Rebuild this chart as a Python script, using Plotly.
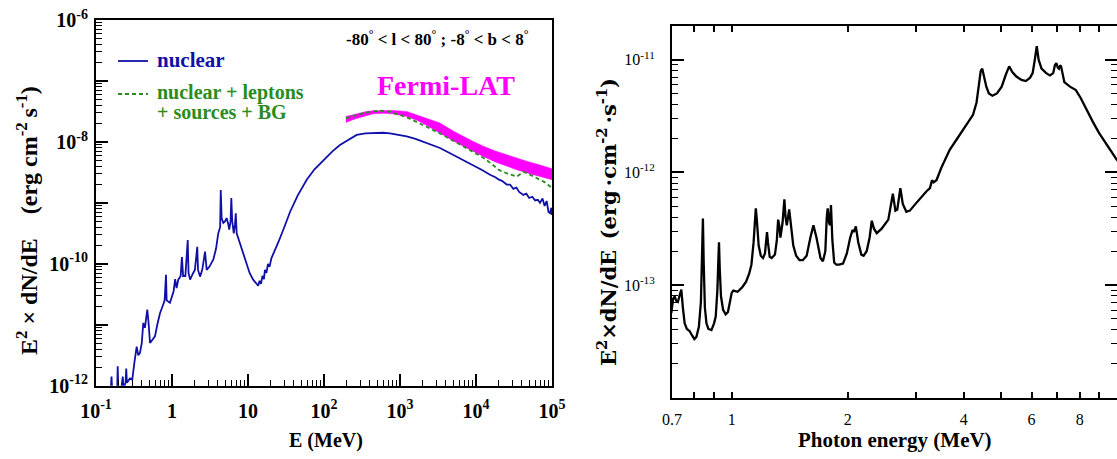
import numpy as np
import plotly.graph_objects as go

W, H = 1117, 459

# ---------------- Left panel data (E in MeV, log10 of E^2 dN/dE) ----------------
nuclear_E = [0.150, 0.156, 0.160, 0.165, 0.180, 0.190, 0.193, 0.197, 0.215, 0.225, 0.230, 0.245,
             0.250, 0.255, 0.280, 0.300, 0.320, 0.343, 0.360, 0.379, 0.400, 0.419, 0.440, 0.473,
             0.490, 0.514, 0.550, 0.597, 0.640, 0.695, 0.750, 0.800, 0.834, 0.850, 0.940, 1.05,
             1.10, 1.15, 1.21, 1.30, 1.35, 1.40, 1.50, 1.61, 1.65, 1.73, 1.90, 2.00, 2.15, 2.20,
             2.34, 2.50, 2.72, 2.80, 2.86, 3.10, 3.50, 3.80, 4.06, 4.30, 4.38, 4.50, 4.73, 5.00,
             5.23, 5.50, 5.66, 5.90, 6.03, 6.20, 6.50, 6.75, 6.90, 7.10, 7.45, 8.50, 9.60, 10.5,
             11.7, 12.5, 13.0, 13.6, 14.2, 14.8, 15.5, 16.2, 16.7, 17.5, 18.3, 19.2, 20.3, 22.0,
             25.0, 30.0, 35.7, 45.0, 59.2, 75.0, 98.0, 130, 162, 210, 269, 350, 446, 600, 738,
             1000, 1224, 1600, 2027, 2600, 3358, 4300, 5568, 7000, 9226, 12000, 15283, 18000,
             20000, 22000, 25343, 28000, 31000, 34000, 37000, 41980, 46000, 50000, 55000, 60000,
             65000, 69500, 75000, 80000, 85000, 90000, 94200, 98000, 100000]
nuclear_logF = [-12.25, -12.10, -11.85, -12.20, -12.10, -12.05, -11.68, -12.10, -12.05, -11.85, -12.05, -11.95,
                -11.72, -11.95, -11.88, -11.90, -11.62, -11.36, -11.50, -11.46, -11.30, -10.97, -11.05, -10.75,
                -10.95, -11.30, -11.25, -11.19, -11.00, -10.81, -10.70, -10.60, -10.18, -10.60, -10.64, -10.45,
                -10.25, -10.40, -10.26, -10.20, -9.89, -10.20, -10.20, -9.61, -10.15, -10.26, -10.15, -10.10, -9.72, -10.10,
                -10.21, -10.10, -9.80, -10.05, -10.10, -10.05, -9.93, -9.75, -9.50, -9.40, -8.79, -9.25, -9.33, -9.30,
                -9.25, -9.35, -9.44, -9.30, -8.92, -9.30, -9.50, -9.35, -9.17, -9.50, -9.58, -9.82, -10.04, -10.15,
                -10.26, -10.30, -10.32, -10.36, -10.28, -10.33, -10.20, -10.25, -10.10, -10.15, -10.00, -10.05, -9.91, -9.82,
                -9.65, -9.40, -9.15, -8.88, -8.62, -8.45, -8.30, -8.15, -8.05, -7.96, -7.885, -7.86, -7.85, -7.85, -7.86,
                -7.89, -7.91, -7.95, -7.995, -8.05, -8.10, -8.17, -8.24, -8.31, -8.38, -8.46, -8.54, -8.58,
                -8.62, -8.64, -8.70, -8.70, -8.77, -8.75, -8.82, -8.87, -8.85, -8.92, -8.90, -8.96,
                -8.95, -9.00, -8.93, -9.05, -8.97, -9.15, -9.17, -9.08, -9.20]

total_E = [194, 260, 350, 450, 546, 700, 900, 1224, 1700, 2400, 3358, 5000, 7000, 9226,
           12500, 16000, 20000, 26000, 30000, 34300, 38000, 41980, 50000, 60000, 69500, 80000, 94200, 100000]
total_logF = [-7.61, -7.56, -7.52, -7.50, -7.487, -7.50, -7.54, -7.595, -7.68, -7.77, -7.86, -7.98, -8.08, -8.16,
              -8.26, -8.36, -8.46, -8.52, -8.54, -8.57, -8.53, -8.49, -8.53, -8.58, -8.62, -8.66, -8.73, -8.75]

fermi_E = [194, 260, 350, 446, 600, 800, 1224, 1700, 2400, 3358, 5000, 7000, 9226,
           12500, 18000, 25343, 35000, 50000, 69500, 94200, 100000]
fermi_upper_logF = [-7.585, -7.54, -7.505, -7.487, -7.48, -7.485, -7.50, -7.56, -7.62, -7.69, -7.82, -7.92, -7.995,
                    -8.07, -8.15, -8.21, -8.27, -8.33, -8.38, -8.43, -8.44]
fermi_lower_logF = [-7.68, -7.62, -7.575, -7.54, -7.53, -7.54, -7.585, -7.65, -7.75, -7.86, -7.98, -8.08, -8.16,
                    -8.24, -8.33, -8.40, -8.46, -8.52, -8.57, -8.61, -8.62]

# ---------------- Right panel data ----------------
line_E = [0.697, 0.705, 0.711, 0.718, 0.725, 0.732, 0.740, 0.747, 0.755, 0.765, 0.778, 0.790, 0.800, 0.810,
          0.822, 0.832, 0.838, 0.842, 0.846, 0.852, 0.860, 0.870, 0.886, 0.900, 0.909, 0.918, 0.924, 0.927,
          0.931, 0.938, 0.950, 0.965, 0.978, 0.990, 1.000, 1.010, 1.036, 1.065, 1.090, 1.110, 1.125, 1.140,
          1.150, 1.155, 1.162, 1.175, 1.190, 1.206, 1.220, 1.230, 1.235, 1.242, 1.255, 1.270, 1.295, 1.310,
          1.320, 1.330, 1.338, 1.355, 1.370, 1.380, 1.390, 1.410, 1.425, 1.445, 1.470, 1.500, 1.530, 1.565,
          1.600, 1.630, 1.660, 1.700, 1.725, 1.750, 1.765, 1.775, 1.790, 1.800, 1.810, 1.825, 1.845, 1.870,
          1.900, 1.945, 1.990, 2.030, 2.060, 2.075, 2.100, 2.130, 2.170, 2.200, 2.240, 2.280, 2.310, 2.340,
          2.380, 2.450, 2.550, 2.590, 2.620, 2.660, 2.690, 2.740, 2.780, 2.840, 2.900, 3.000, 3.100, 3.200,
          3.270, 3.310, 3.340, 3.400, 3.500, 3.680, 3.850, 3.990, 4.230, 4.320, 4.380, 4.430, 4.470, 4.510,
          4.580, 4.650, 4.750, 4.880, 5.020, 5.150, 5.250, 5.350, 5.480, 5.650, 5.800, 5.950, 6.040, 6.120,
          6.190, 6.260, 6.370, 6.550, 6.700, 6.830, 6.900, 6.960, 7.020, 7.070, 7.120, 7.160, 7.230, 7.300,
          7.550, 7.820, 8.050, 8.290, 8.650, 8.980, 9.450, 9.950, 10.20]
line_logF = [-13.25, -13.12, -13.10, -13.14, -13.15, -13.10, -13.04, -13.20, -13.34, -13.39, -13.41, -13.45, -13.48, -13.46,
             -13.37, -13.15, -12.80, -12.41, -12.80, -13.20, -13.34, -13.39, -13.40, -13.34, -13.28, -13.05, -12.75, -12.62,
             -12.85, -13.10, -13.22, -13.26, -13.24, -13.16, -13.07, -13.05, -13.06, -13.02, -12.97, -12.90, -12.82, -12.62,
             -12.38, -12.32, -12.42, -12.65, -12.74, -12.76, -12.72, -12.57, -12.53, -12.62, -12.75, -12.76, -12.73, -12.60,
             -12.42, -12.48, -12.58, -12.45, -12.24, -12.40, -12.47, -12.33, -12.45, -12.65, -12.74, -12.78, -12.78, -12.74,
             -12.58, -12.47, -12.58, -12.76, -12.79, -12.70, -12.40, -12.32, -12.45, -12.47, -12.29, -12.60, -12.80, -12.82,
             -12.82, -12.81, -12.72, -12.58, -12.51, -12.53, -12.48, -12.62, -12.73, -12.74, -12.70, -12.58, -12.43, -12.50,
             -12.54, -12.50, -12.42, -12.30, -12.19, -12.34, -12.33, -12.14, -12.28, -12.35, -12.34, -12.28, -12.22, -12.17,
             -12.14, -12.07, -12.09, -12.07, -11.96, -11.80, -11.70, -11.62, -11.49, -11.38, -11.24, -11.10, -11.08, -11.15,
             -11.24, -11.30, -11.32, -11.30, -11.24, -11.13, -11.06, -11.11, -11.15, -11.18, -11.19, -11.16, -11.12, -11.00,
             -10.88, -11.00, -11.08, -11.12, -11.14, -11.12, -11.05, -11.03, -11.07, -11.08, -11.05, -11.06, -11.15, -11.20,
             -11.24, -11.27, -11.34, -11.43, -11.55, -11.65, -11.77, -11.88, -11.93]

left_x_ticks = [0.1, 1, 10, 100, 1000, 10000, 100000]
left_x_labels = ["10<sup>-1</sup>", "1", "10", "10<sup>2</sup>", "10<sup>3</sup>", "10<sup>4</sup>", "10<sup>5</sup>"]
left_y_ticks = [1e-12, 1e-11, 1e-10, 1e-9, 1e-8, 1e-7, 1e-6]
left_y_labels = ["10<sup>-12</sup>", "", "10<sup>-10</sup>", "", "10<sup>-8</sup>", "", "10<sup>-6</sup>"]
right_x_ticks = [0.7, 0.8, 0.9, 1, 2, 3, 4, 5, 6, 7, 8, 9]
right_x_labels = ["0.7", "", "", "1", "2", "", "4", "", "6", "", "8", ""]
right_y_ticks = [1e-13, 1e-12, 1e-11]
right_y_labels = ["10<sup>-13</sup>", "10<sup>-12</sup>", "10<sup>-11</sup>"]

BLUE = "#1010a8"
GREEN = "#2a8c1e"
MAGENTA = "#ff00ff"
SERIF = "Liberation Serif"


def minors(lo, hi):
    out = []
    for d in range(lo, hi):
        for m in range(2, 10):
            out.append(m * 10.0 ** d)
    return out


def p(v):
    return 10.0 ** np.array(v)


fig = go.Figure()

# Fermi-LAT band
fig.add_trace(go.Scatter(x=fermi_E, y=p(fermi_lower_logF), mode="lines", line=dict(color=MAGENTA, width=0.5),
                         showlegend=False, xaxis="x", yaxis="y", hoverinfo="skip"))
fig.add_trace(go.Scatter(x=fermi_E, y=p(fermi_upper_logF), mode="lines", line=dict(color=MAGENTA, width=0.5),
                         fill="tonexty", fillcolor=MAGENTA, showlegend=False, xaxis="x", yaxis="y"))
fig.add_trace(go.Scatter(x=nuclear_E, y=p(nuclear_logF), mode="lines", line=dict(color=BLUE, width=1.8),
                         name="nuclear", showlegend=False, xaxis="x", yaxis="y"))
fig.add_trace(go.Scatter(x=total_E, y=p(total_logF), mode="lines",
                         line=dict(color=GREEN, width=1.8, dash="4px,3px"),
                         name="nuclear + leptons + sources + BG", showlegend=False, xaxis="x", yaxis="y"))

# Right panel line
fig.add_trace(go.Scatter(x=line_E, y=p(line_logF), mode="lines", line=dict(color="black", width=2.3),
                         showlegend=False, xaxis="x2", yaxis="y2"))

bold_font = dict(family=SERIF, size=20, color="black", weight="bold")

fig.update_layout(
    template="none",
    width=W, height=H, margin=dict(l=0, r=0, t=0, b=0, autoexpand=False),
    paper_bgcolor="white", plot_bgcolor="white",
    xaxis=dict(type="log", domain=[96 / W, 552 / W], range=[-1, 5], anchor="y", automargin=False,
               tickmode="array", tickvals=left_x_ticks, ticktext=left_x_labels,
               ticks="inside", ticklen=12, tickwidth=1.5, tickcolor="black",
               minor=dict(tickmode="array", tickvals=minors(-1, 5), ticks="inside", ticklen=6,
                          tickwidth=1.2, tickcolor="black", showgrid=False),
               showline=True, linecolor="black", linewidth=2, mirror=True, showgrid=False, zeroline=False,
               tickfont=bold_font, ticklabelstandoff=6),
    yaxis=dict(type="log", domain=[1 - 385.7 / H, 1 - 20 / H], range=[-12, -6], anchor="x", automargin=False,
               tickmode="array", tickvals=left_y_ticks, ticktext=left_y_labels,
               ticks="inside", ticklen=12, tickwidth=1.5, tickcolor="black",
               minor=dict(tickmode="array", tickvals=minors(-12, -6), ticks="inside", ticklen=6,
                          tickwidth=1.2, tickcolor="black", showgrid=False),
               showline=True, linecolor="black", linewidth=2, mirror=True, showgrid=False, zeroline=False,
               tickfont=bold_font, ticklabelstandoff=2),
    xaxis2=dict(type="log", domain=[672 / W, 1.0], range=[np.log10(0.7), 1.0], anchor="y2", automargin=False,
                tickmode="array", tickvals=right_x_ticks, ticktext=right_x_labels,
                ticks="inside", ticklen=6, tickwidth=1.5, tickcolor="black",
                showline=True, linecolor="black", linewidth=2, mirror="ticks", showgrid=False, zeroline=False,
                tickfont=dict(family=SERIF, size=16, color="black"), ticklabelstandoff=6),
    yaxis2=dict(type="log", domain=[1 - 397.7 / H, 1 - 25.7 / H], range=[-14, np.log10(2e-11)], anchor="x2",
                automargin=False,
                tickmode="array", tickvals=right_y_ticks, ticktext=right_y_labels,
                ticks="inside", ticklen=12, tickwidth=1.5, tickcolor="black",
                minor=dict(tickmode="array", tickvals=minors(-14, -11) + [2e-11], ticks="inside", ticklen=6,
                           tickwidth=1.2, tickcolor="black", showgrid=False),
                showline=True, linecolor="black", linewidth=2, mirror="ticks", showgrid=False, zeroline=False,
                tickfont=dict(family=SERIF, size=16, color="black"), ticklabelstandoff=12),
    showlegend=False,
)

# long tick at 1 MeV on right panel (bottom and top)
one = np.log10(1.0)
for y0, y1 in [(0, 12 / 372), (1 - 12 / 372, 1)]:
    fig.add_shape(type="line", xref="x2", yref="y2 domain", x0=one, x1=one, y0=y0, y1=y1,
                  line=dict(color="black", width=1.5))

# legend samples (paper coordinates)
fig.add_shape(type="line", xref="paper", yref="paper", x0=118 / W, x1=148 / W, y0=1 - 61 / H, y1=1 - 61 / H,
              line=dict(color=BLUE, width=1.8))
fig.add_shape(type="line", xref="paper", yref="paper", x0=118 / W, x1=148 / W, y0=1 - 94 / H, y1=1 - 94 / H,
              line=dict(color=GREEN, width=1.8, dash="4px,3px"))


def ann(text, x, y, size, color="black", bold=True, angle=0, xanchor="center", family=SERIF):
    fig.add_annotation(text=text, x=x / W, y=1 - y / H, xref="paper", yref="paper", showarrow=False,
                       textangle=angle, xanchor=xanchor, yanchor="middle",
                       font=dict(family=family, size=size, color=color, weight="bold" if bold else "normal"))


ann("nuclear", 155, 60, 21, BLUE, xanchor="left")
ann("nuclear + leptons", 155, 92, 20, GREEN, xanchor="left")
ann("+ sources + BG", 155, 112, 20, GREEN, xanchor="left")
ann("-80<sup>°</sup> < l < 80<sup>°</sup> ; -8<sup>°</sup> < b < 8<sup>°</sup>", 437, 38, 17)
ann("Fermi-LAT", 446, 86, 28, MAGENTA)
ann("E (MeV)", 326, 440, 20)
ann("E<sup>2</sup> × dN/dE\u2003(erg cm<sup>-2</sup>\u2009s<sup>-1</sup>)", 27, 221, 24, angle=-90)
ann("Photon energy (MeV)", 895, 440, 21)
ann("E<sup>2</sup>×dN/dE\u2002(erg\u2009·cm<sup>-2</sup>\u2009·s<sup>-1</sup>)", 607, 222, 21, angle=-90,
    family="DejaVu Serif")

fig.write_html("out.html", config={"displayModeBar": False},
               post_script="document.body.style.margin='0';document.body.style.overflow='hidden';")
